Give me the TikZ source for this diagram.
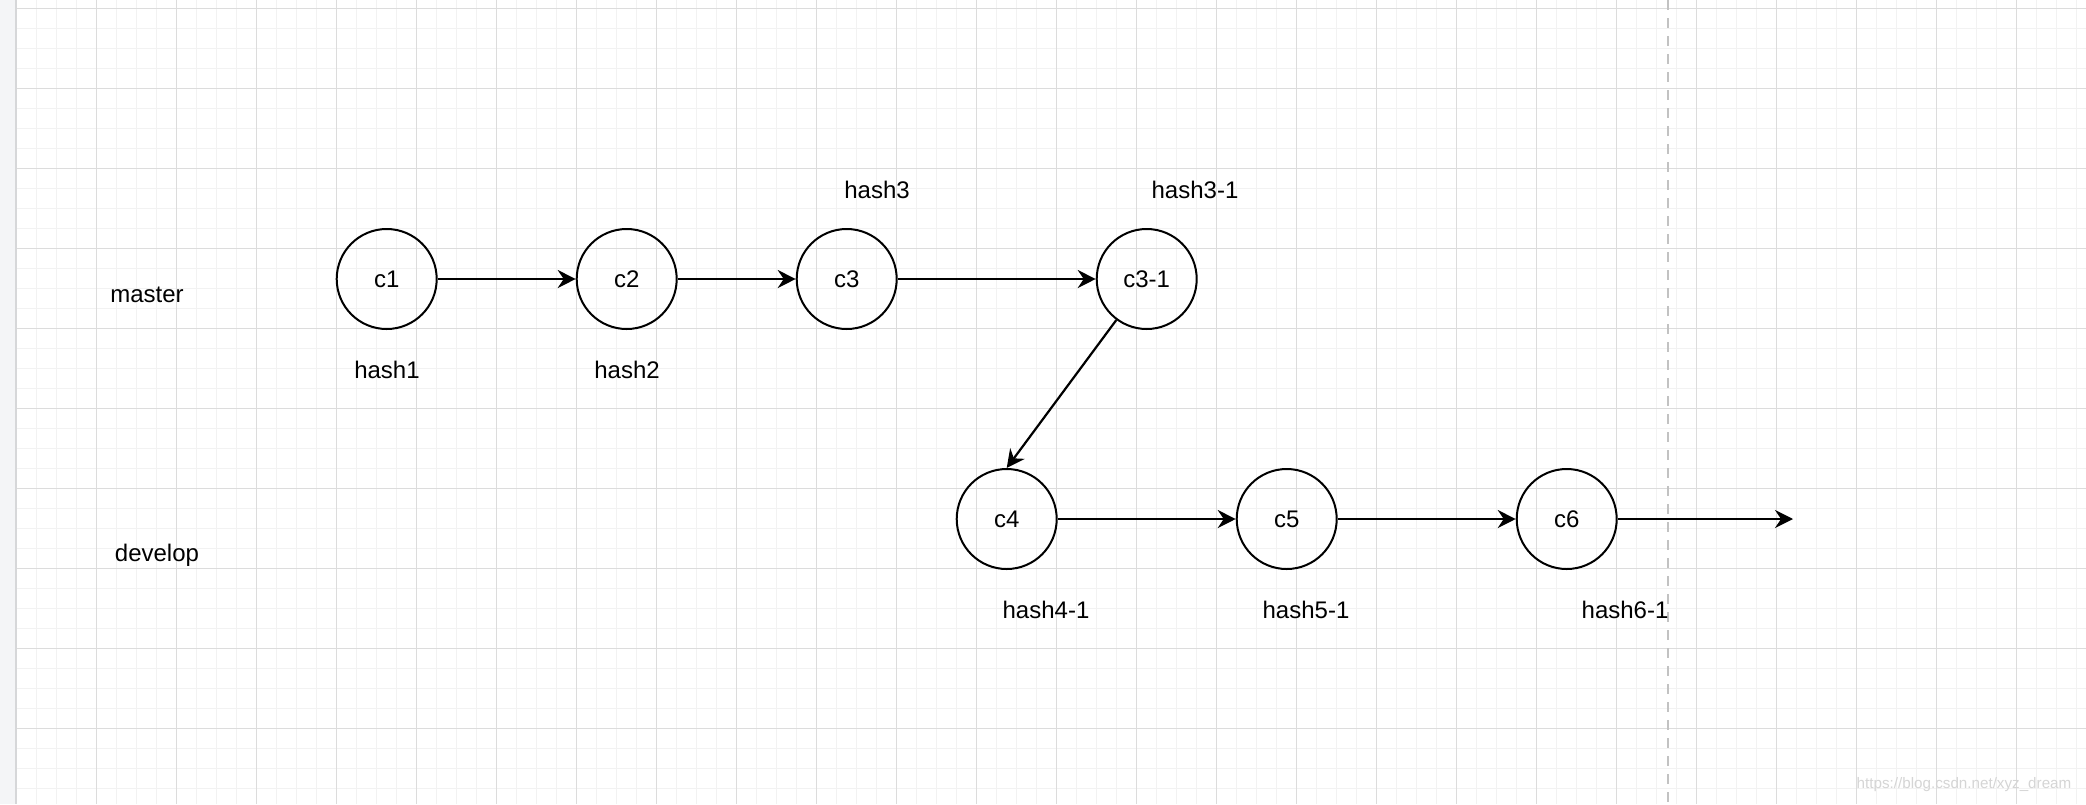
\documentclass[tikz,border=0pt]{standalone}
\usepackage{fontspec}
\setmainfont{Liberation Sans}
\usetikzlibrary{arrows.meta}
\definecolor{gridminor}{HTML}{F2F2F2}
\definecolor{gridmajor}{HTML}{DCDCDC}
\definecolor{stripfill}{HTML}{F4F5F7}
\definecolor{stripedge}{HTML}{D6D7D9}
\definecolor{dashgray}{HTML}{C2C2C2}
\definecolor{wmark}{HTML}{D5D5D5}
\begin{document}
\begin{tikzpicture}[x=0.5pt,y=-0.5pt,
  commit/.style={circle,draw=black,line width=1pt,minimum size=50pt,inner sep=0pt,font=\fontsize{12}{14}\selectfont},
  lbl/.style={font=\fontsize{12}{14}\selectfont,inner sep=0pt},
  link/.style={line width=1.1pt,-{Stealth[length=9pt,width=9pt,inset=3pt]}}]
\useasboundingbox (0,0) rectangle (2086,804);
\fill[white] (0,0) rectangle (2086,804);
% grid
\foreach \i in {0,...,103} \draw[gridminor,line width=0.6pt] ({16.7+20*\i},0) -- ({16.7+20*\i},804);
\foreach \i in {0,...,39} \draw[gridminor,line width=0.6pt] (16.7,{8.3+20*\i}) -- (2086,{8.3+20*\i});
\foreach \i in {0,...,25} \draw[gridmajor,line width=0.6pt] ({16.7+80*\i},0) -- ({16.7+80*\i},804);
\foreach \i in {0,...,9} \draw[gridmajor,line width=0.6pt] (16.7,{8.3+80*\i}) -- (2086,{8.3+80*\i});
% left strip
\fill[stripfill] (0,0) rectangle (15,804);
\draw[stripedge,line width=1pt] (15.5,0) -- (15.5,804);
% dashed divider
\draw[dashgray,line width=1pt,dash pattern=on 5pt off 4pt] (1667.7,0) -- (1667.7,804);
% lane labels
\node[lbl] (master) at (147,295) {master};
\node[lbl] (develop) at (157,555) {develop};
% commits
\node[commit] (c1) at (386.7,279) {c1};
\node[commit] (c2) at (626.7,279) {c2};
\node[commit] (c3) at (846.7,279) {c3};
\node[commit] (c31) at (1146.7,279) {c3-1};
\node[commit] (c4) at (1006.7,519) {c4};
\node[commit] (c5) at (1286.7,519) {c5};
\node[commit] (c6) at (1566.7,519) {c6};
\coordinate (tail) at (1793,519);
% hash labels
\node[lbl] (h1) at (387,370) {hash1};
\node[lbl] (h2) at (627,370) {hash2};
\node[lbl] (h3) at (877,190) {hash3};
\node[lbl] (h31) at (1195,190) {hash3-1};
\node[lbl] (h41) at (1046,610) {hash4-1};
\node[lbl] (h51) at (1306,610) {hash5-1};
\node[lbl] (h61) at (1625,610) {hash6-1};
% connectors
\draw[link] (c1) -- (c2);
\draw[link] (c2) -- (c3);
\draw[link] (c3) -- (c31);
\draw[link] (c31) -- (c4.north);
\draw[link] (c4) -- (c5);
\draw[link] (c5) -- (c6);
\draw[link] (c6) -- (tail);
% watermark
\node[font=\fontsize{7.6}{9}\selectfont,text=wmark,inner sep=0pt] (wm) at (1964,785) {https://blog.csdn.net/xyz\_dream};
\end{tikzpicture}
\end{document}
